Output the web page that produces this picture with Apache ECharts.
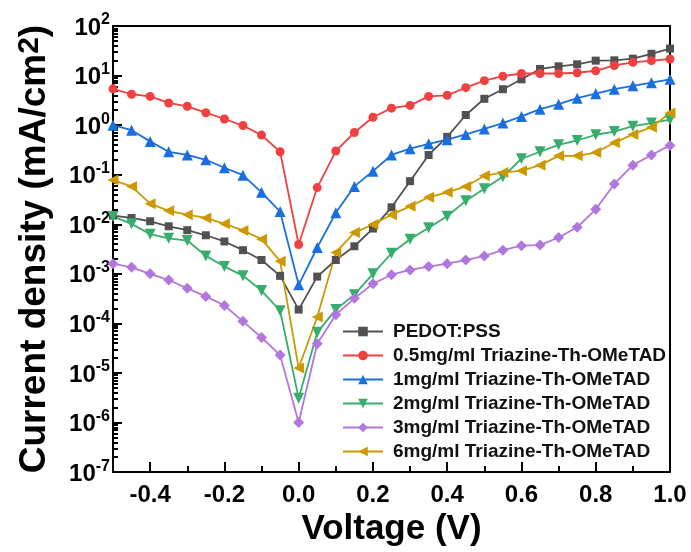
<!DOCTYPE html>
<html>
<head>
<meta charset="utf-8">
<script src="https://cdn.jsdelivr.net/npm/echarts@6.0.0/dist/echarts.min.js"></script>
<style>
  html, body { margin: 0; padding: 0; background: #fff; }
  #chart { width: 691px; height: 552px; }
</style>
</head>
<body>
<div id="chart"></div>
<script>
// bias voltage (V), one point every 0.05 V
var voltage = [-0.5, -0.45, -0.4, -0.35, -0.3, -0.25, -0.2, -0.15, -0.1, -0.05, 0,
  0.05, 0.1, 0.15, 0.2, 0.25, 0.3, 0.35, 0.4, 0.45, 0.5, 0.55, 0.6, 0.65, 0.7,
  0.75, 0.8, 0.85, 0.9, 0.95, 1.0];

// current density (mA/cm2)
var pedot = [0.015, 0.0134, 0.0115, 0.0091, 0.0076, 0.006, 0.0045, 0.003, 0.0019, 0.00091, 0.00019,
  0.00088, 0.0019, 0.0036, 0.0082, 0.022, 0.074, 0.25, 0.58, 1.6, 3.4, 5.3, 8.4, 13.6, 15.4,
  16.9, 20, 20.3, 21.9, 27.5, 35];
var tri05 = [5.4, 4.2, 3.8, 2.8, 2.4, 1.78, 1.33, 0.98, 0.63, 0.29, 0.0039,
  0.055, 0.30, 0.71, 1.44, 2.2, 2.5, 3.8, 4.0, 5.7, 7.9, 9.7, 11, 11, 11,
  11.4, 12.5, 16, 18.5, 20, 21.6];
var tri1 = [1.0, 0.79, 0.47, 0.29, 0.25, 0.20, 0.138, 0.098, 0.044, 0.018, 0.0006,
  0.0034, 0.017, 0.058, 0.118, 0.25, 0.335, 0.42, 0.51, 0.65, 0.84, 1.1, 1.5, 2.1, 2.65,
  3.5, 4.3, 5.3, 6.2, 7.2, 8.4];
var tri2 = [0.0144, 0.0102, 0.0063, 0.0052, 0.0047, 0.0023, 0.0014, 0.00092, 0.00046, 0.00018, 3.1e-6,
  6.6e-5, 1.9e-4, 3.8e-4, 0.001, 0.0026, 0.005, 0.0085, 0.0145, 0.0297, 0.052, 0.091, 0.21, 0.29, 0.40,
  0.49, 0.64, 0.74, 0.95, 1.1, 1.29];
var tri3 = [0.0016, 0.00135, 0.001, 0.00075, 0.00051, 0.00035, 0.00023, 0.00011, 5.2e-5, 2.3e-5, 1.0e-6,
  3.9e-5, 1.5e-4, 3.2e-4, 6.3e-4, 9.6e-4, 0.0012, 0.0014, 0.0016, 0.0019, 0.0023, 0.003, 0.0037, 0.0038, 0.0054,
  0.0087, 0.02, 0.065, 0.156, 0.25, 0.39];
var tri6 = [0.078, 0.058, 0.026, 0.0187, 0.0156, 0.0134, 0.0102, 0.0075, 0.005, 0.0018, 1.26e-5,
  1.35e-4, 0.0027, 0.0068, 0.0099, 0.0156, 0.023, 0.035, 0.044, 0.058, 0.095, 0.111, 0.12, 0.156, 0.24,
  0.24, 0.28, 0.44, 0.65, 0.91, 1.75];

var names = ['PEDOT:PSS', '0.5mg/ml Triazine-Th-OMeTAD', '1mg/ml Triazine-Th-OMeTAD',
  '2mg/ml Triazine-Th-OMeTAD', '3mg/ml Triazine-Th-OMeTAD', '6mg/ml Triazine-Th-OMeTAD'];
var colors = ['#515151', '#F14040', '#1A6FDF', '#37AD6B', '#B177DE', '#CC9900'];

// tick positions
var xMajor = [-0.4, -0.2, 0, 0.2, 0.4, 0.6, 0.8, 1.0];
var xMinor = [-0.3, -0.1, 0.1, 0.3, 0.5, 0.7, 0.9];
var yMajor = [1e-7, 1e-6, 1e-5, 1e-4, 1e-3, 1e-2, 1e-1, 1, 10, 100];
var yMinor = [];
yMajor.slice(0, -1).forEach(function (d) {
  [2, 3, 4, 5, 6, 7, 8, 9].forEach(function (k) { yMinor.push(d * k); });
});

function pairs(ys) {
  return voltage.map(function (v, i) { return [v, ys[i]]; });
}

var font = '"Liberation Sans", Arial, sans-serif';
var black = '#000';

function makeSeries(name, ys, color, symbol, rotate) {
  return {
    name: name,
    type: 'line',
    data: pairs(ys),
    symbol: symbol,
    symbolRotate: rotate,
    symbolSize: symbol === 'rect' ? 8 : (symbol === 'circle' ? 9 : 11),
    itemStyle: { color: color },
    lineStyle: { color: color, width: 1.8 },
    emphasis: { disabled: true }
  };
}

// plain axis used only for a frame edge or for extra ticks
function extraAxis(type, position, ticks, len, showLine) {
  var a = {
    type: type,
    position: position,
    axisLine: { show: showLine, onZero: false, lineStyle: { color: black, width: 2 } },
    axisTick: { show: !!ticks, inside: true, length: len, lineStyle: { color: black, width: 2 } },
    axisLabel: { show: false },
    splitLine: { show: false }
  };
  if (ticks) a.axisTick.customValues = ticks;
  if (type === 'log') { a.logBase = 10; a.min = 1e-7; a.max = 100; }
  else { a.min = -0.5; a.max = 1.0; a.interval = 0.1; }
  return a;
}

var chart = echarts.init(document.getElementById('chart'));

var option = {
  animation: false,
  textStyle: { fontFamily: font },
  grid: { left: 113, right: 21, top: 26, bottom: 76 },
  legend: {
    orient: 'vertical',
    left: 337,
    top: 317,
    itemWidth: 40,
    itemHeight: 12,
    itemGap: 5,
    data: names,
    textStyle: { fontFamily: font, fontWeight: 'bold', fontSize: 19, color: '#111', lineHeight: 18, padding: [0, 0, 0, 5] }
  },
  xAxis: [{
    type: 'value',
    min: -0.5,
    max: 1.0,
    interval: 0.1,
    position: 'bottom',
    name: 'Voltage (V)',
    nameLocation: 'middle',
    nameGap: 34,
    nameTextStyle: { fontFamily: font, fontWeight: 'bold', fontSize: 35, color: black },
    axisLine: { onZero: false, lineStyle: { color: black, width: 2 } },
    axisTick: { inside: true, length: 10, lineStyle: { color: black, width: 2 }, customValues: xMajor },
    axisLabel: {
      customValues: xMajor,
      margin: 11,
      fontFamily: font, fontWeight: 'bold', fontSize: 24, color: black,
      formatter: function (v) { return v.toFixed(1); }
    },
    splitLine: { show: false }
  },
    extraAxis('value', 'bottom', xMinor, 6, false),
    extraAxis('value', 'top', null, 0, true)
  ],
  yAxis: [{
    type: 'log',
    logBase: 10,
    min: 1e-7,
    max: 100,
    position: 'left',
    name: 'Current density (mA/cm{s|2})',
    nameLocation: 'middle',
    nameGap: 58,
    nameRotate: 90,
    nameTextStyle: {
      fontFamily: font, fontWeight: 'bold', fontSize: 37, color: black,
      rich: { s: { fontFamily: font, fontWeight: 'bold', fontSize: 30, color: black, verticalAlign: 'top', lineHeight: 40 } }
    },
    axisLine: { onZero: false, lineStyle: { color: black, width: 2 } },
    axisTick: { inside: true, length: 9, lineStyle: { color: black, width: 2 }, customValues: yMajor },
    axisLabel: {
      customValues: yMajor,
      margin: 3,
      formatter: function (v) {
        var n = Math.round(Math.log10(v));
        return '{b|10}{s|' + n + '}';
      },
      rich: {
        b: { fontFamily: font, fontWeight: 'bold', fontSize: 24, color: black, verticalAlign: 'bottom', lineHeight: 28 },
        s: { fontFamily: font, fontWeight: 'bold', fontSize: 16, color: black, verticalAlign: 'top', lineHeight: 28 }
      }
    },
    splitLine: { show: false }
  },
    extraAxis('log', 'left', yMinor, 5, false),
    extraAxis('log', 'right', null, 0, true)
  ],
  series: [
    makeSeries(names[0], pedot, colors[0], 'rect', 0),
    makeSeries(names[1], tri05, colors[1], 'circle', 0),
    makeSeries(names[2], tri1, colors[2], 'triangle', 0),
    makeSeries(names[3], tri2, colors[3], 'triangle', 180),
    makeSeries(names[4], tri3, colors[4], 'diamond', 0),
    makeSeries(names[5], tri6, colors[5], 'triangle', 90)
  ]
};

chart.setOption(option);
</script>
</body>
</html>
